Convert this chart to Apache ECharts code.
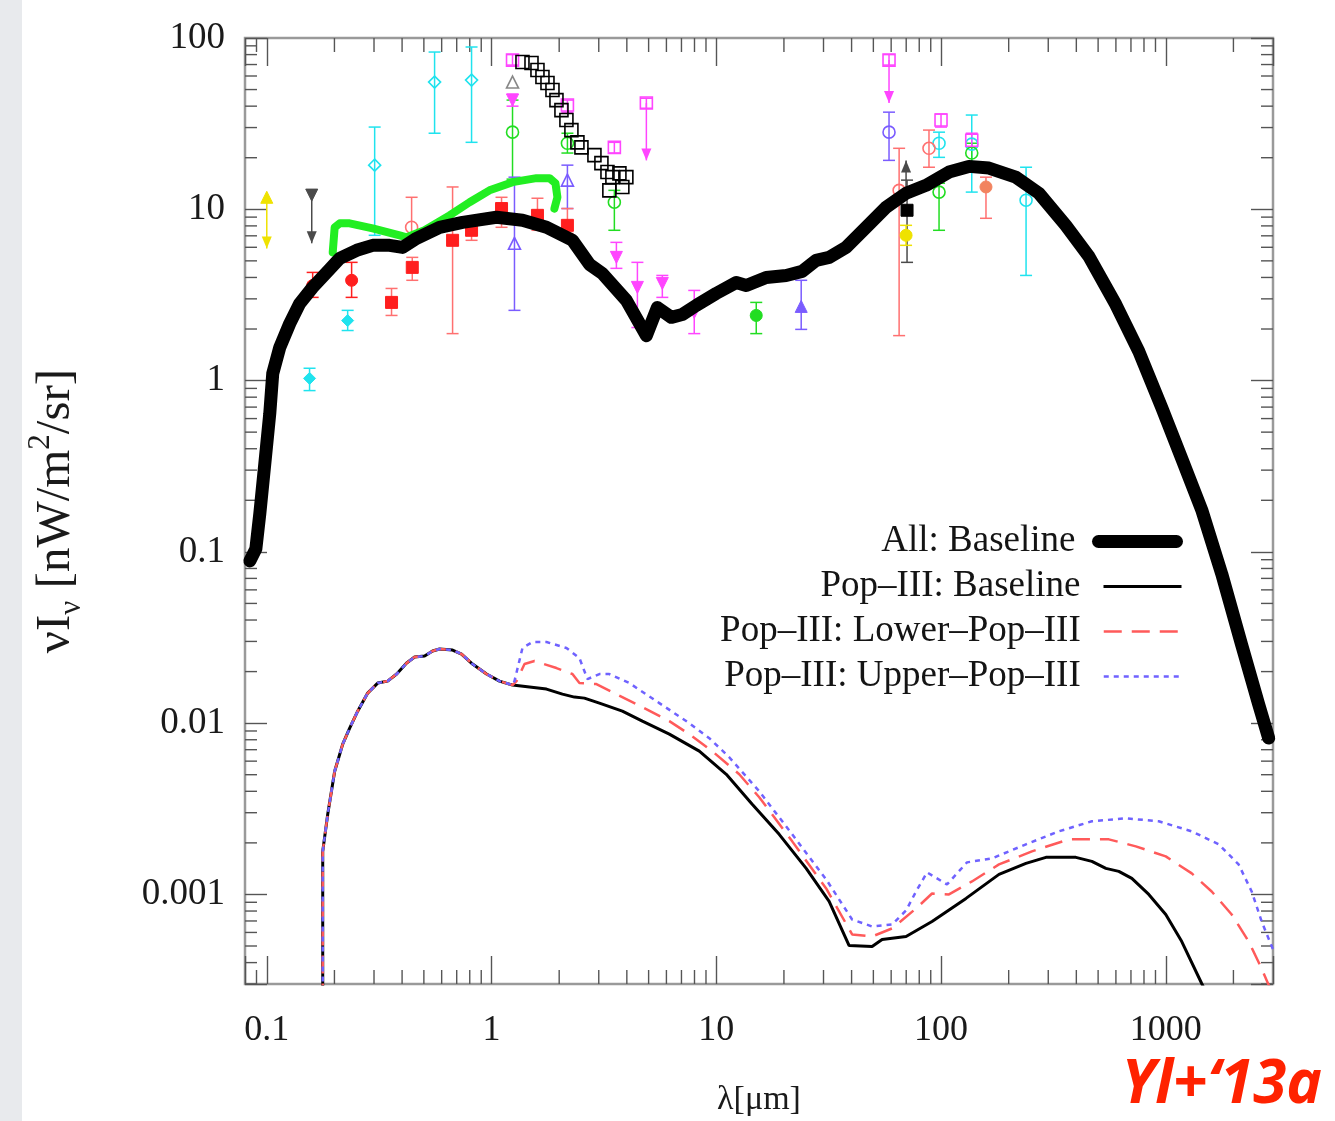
<!DOCTYPE html>
<html>
<head>
<meta charset="utf-8">
<script src="https://cdn.jsdelivr.net/npm/echarts@6/dist/echarts.min.js"></script>
<style>
html, body { margin: 0; padding: 0; background: #ffffff; }
#chart { width: 1335px; height: 1121px; }
</style>
</head>
<body>
<div id="chart"></div>
<script>
// Axis ranges (wavelength in micron, intensity in nW/m^2/sr)
const X_MIN = 0.08, X_MAX = 3000;
const Y_MIN = 0.0003, Y_MAX = 100;

// Model curves: [lambda, nuI_nu]
const allBaseline = [
  [0.0841, 0.0886], [0.0894, 0.104], [0.0931, 0.167], [0.0980, 0.327], [0.1031, 0.641],
  [0.1063, 1.10], [0.1142, 1.56], [0.1265, 2.15], [0.1402, 2.82], [0.160, 3.50],
  [0.1848, 4.28], [0.2111, 5.17], [0.2512, 5.76], [0.2959, 6.16], [0.352, 6.16],
  [0.4022, 5.99], [0.4642, 6.77], [0.5874, 7.85], [0.7433, 8.39], [1.052, 8.98],
  [1.373, 8.63], [1.756, 7.85], [2.291, 6.59], [2.727, 4.77], [3.113, 4.22],
  [3.981, 2.94], [4.886, 1.83], [5.467, 2.67], [6.31, 2.34], [7.06, 2.43],
  [8.15, 2.75], [10.0, 3.23], [12.27, 3.74], [13.6, 3.59], [16.68, 4.00],
  [20.47, 4.11], [24.1, 4.34], [27.8, 5.03], [31.8, 5.24], [37.8, 5.99],
  [46.4, 7.85], [56.9, 10.27], [69.9, 12.4], [85.8, 13.8], [108.5, 16.5],
  [133, 17.8], [163.4, 17.4], [215, 15.4], [272.6, 12.4], [359, 8.06],
  [454.8, 5.31], [599.5, 2.78], [758.6, 1.48], [959.8, 0.695], [1178, 0.350],
  [1445, 0.176], [1774, 0.0744], [2177, 0.0286], [2590, 0.0129], [2870, 0.00818]
];

// Part common to all Pop-III variants (up to ~1.2 micron)
const popIIIShared = [
  [0.1774, 0.000237], [0.1774, 0.000695], [0.1774, 0.001785], [0.1867, 0.002936],
  [0.2005, 0.00524], [0.2177, 0.00754], [0.2338, 0.00935], [0.2538, 0.01175],
  [0.2812, 0.01498], [0.3115, 0.01714], [0.345, 0.0176], [0.3784, 0.01935],
  [0.419, 0.02243], [0.4548, 0.02432], [0.5038, 0.02465], [0.5468, 0.02637],
  [0.5874, 0.02709], [0.6709, 0.02673], [0.7356, 0.02532], [0.8233, 0.02213],
  [0.9501, 0.01935], [1.085, 0.0176], [1.24, 0.01668]
];
const popIIIBaselineTail = [
  [1.475, 0.01624], [1.756, 0.01581], [2.068, 0.01477], [2.338, 0.01419], [2.59, 0.0140],
  [3.02, 0.01309], [3.82, 0.01175], [4.69, 0.01027], [6.182, 0.008623], [8.404, 0.006861],
  [11.08, 0.00503], [14.45, 0.00336], [19.05, 0.002243], [25.12, 0.001419], [31.78, 0.00091],
  [39.0, 0.000503], [49.36, 0.000497], [54.68, 0.000546], [69.9, 0.000568], [91.2, 0.000695],
  [129.2, 0.000948], [181.1, 0.001309], [238.7, 0.001518], [292.9, 0.001646], [398.1, 0.001646],
  [469, 0.00156], [541.2, 0.001419], [618.1, 0.001363], [706.3, 0.001241], [840.4, 0.001],
  [1000, 0.000764], [1178, 0.000531], [1445, 0.000302], [1585, 0.000237]
];
const popIIILowerTail = [
  [1.292, 0.0176], [1.402, 0.02213], [1.553, 0.02305], [1.945, 0.02097], [2.291, 0.01935],
  [2.461, 0.01714], [2.929, 0.01691], [3.594, 0.01477], [4.595, 0.01257], [6.182, 0.01027],
  [7.586, 0.008623], [9.601, 0.006861], [12.65, 0.00503], [15.53, 0.003693], [21.77, 0.002041],
  [30.83, 0.001084], [40.22, 0.000584], [49.36, 0.000568], [60.56, 0.000633], [77.43, 0.000828],
  [91.2, 0.001013], [108.5, 0.001], [137.3, 0.001191], [181.1, 0.001497], [253.8, 0.001785],
  [370.6, 0.002097], [558, 0.002097], [735.6, 0.001909], [1000, 0.001668], [1305, 0.001327],
  [1601, 0.001041], [1965, 0.000764], [2338, 0.000531], [2671, 0.000369], [3020, 0.000253]
];
const popIIIUpperTail = [
  [1.265, 0.0176], [1.373, 0.02746], [1.521, 0.02977], [1.756, 0.02977], [2.154, 0.02746],
  [2.461, 0.02399], [2.671, 0.01808], [3.02, 0.01935], [3.344, 0.01935], [4.105, 0.01714],
  [5.58, 0.01309], [7.586, 0.01], [9.309, 0.008176], [11.42, 0.006327], [15.53, 0.004002],
  [21.77, 0.002243], [30.83, 0.001224], [40.22, 0.000714], [49.36, 0.00065], [60.56, 0.000668],
  [69.9, 0.000806], [77.43, 0.001041], [86.7, 0.001345], [106.3, 0.001144], [130.5, 0.001539],
  [168.5, 0.001624], [238.7, 0.001961], [334.5, 0.002336], [469, 0.002673], [664.1, 0.002783],
  [930.8, 0.002673], [1305, 0.002336], [1720, 0.001961], [2110, 0.001497], [2411, 0.001041],
  [2671, 0.000695], [3051, 0.000452]
];

// Near-IR constraint band
const greenBand = [
  [0.1965, 5.60], [0.2005, 7.85], [0.2111, 8.28], [0.2338, 8.28], [0.2959, 7.74],
  [0.3902, 7.05], [0.419, 6.86], [0.5038, 7.54], [0.6506, 9.22], [0.7985, 10.99],
  [0.9797, 12.9], [1.24, 14.4], [1.585, 15.2], [1.811, 15.2], [1.925, 14.2],
  [1.964, 11.75], [1.905, 10.1]
];

// Measurements: [lambda, value, lower, upper]
const cyanFilledDiamond = [[0.155, 1.03, 0.874, 1.18], [0.229, 2.24, 1.96, 2.57]];
const cyanOpenDiamond = [[0.302, 18.1, 7.05, 30.2], [0.558, 55.3, 27.8, 82.8], [0.815, 56.8, 24.6, 88.6]];
const cyanOpenCircle = [[98, 24.3, 20.1, 28.2], [137, 24.0, 12.6, 35.5], [239, 11.3, 4.11, 17.6]];
const redFilledSquare = [
  [0.359, 2.86, 2.40, 3.45], [0.444, 4.58, 3.85, 5.24], [0.671, 6.59, 1.88, 13.5],
  [0.815, 7.54, 6.59, 8.63], [1.108, 10.1, 7.85, 11.75], [1.601, 9.22, 7.54, 11.6],
  [2.176, 8.06, 7.24, 10.1]
];
const redFilledCircle = [[0.160, 3.59, 3.06, 4.28], [0.2385, 3.85, 3.06, 4.90]];
const salmonOpenCircle = [[0.441, 7.85, 6.59, 11.75], [65.1, 12.9, 1.83, 22.7], [88.4, 22.7, 17.6, 29.0]];
const orangeFilledCircle = [[158.5, 13.5, 8.86, 15.4]];
const greenOpenCircle = [
  [1.24, 28.2, 15.0, 43.4], [2.176, 24.3, 21.3, 27.8], [3.52, 11.0, 7.54, 12.9],
  [98, 12.6, 7.54, 14.2], [137, 21.3, 18.6, 24.3]
];
const greenFilledCircle = [[15.06, 2.40, 1.88, 2.86]];
const blueOpenTriangle = [[1.265, 6.33, 2.57, 15.4], [2.176, 14.8, 10.1, 18.1]];
const blueFilledTriangle = [[23.87, 2.71, 1.99, 3.85]];
const blueOpenCircle = [[58.7, 28.2, 19.3, 36.9]];
const magentaOpenSquare = [
  [1.24, 74.3, 69.5, 80.0], [2.176, 40.6, 36.9, 43.4], [3.52, 23.0, 21.3, 24.6],
  [4.886, 41.7, 38.9, 44.5], [58.7, 74.3, 69.5, 80.0], [100, 33.2, 30.2, 36.0],
  [137, 25.3, 23.0, 27.8]
];
const magentaDownTriangle = [
  [1.24, 43.4, 40.0, 47.0], [3.594, 5.24, 4.52, 6.41], [4.457, 3.50, 2.04, 4.90],
  [5.754, 3.69, 3.06, 4.11], [7.98, 2.5, 1.88, 3.36]
];
const blackFilledSquare = [[70.6, 9.87, 4.90, 14.8]];
const yellowFilledCircle = [[69.9, 7.05, 6.16, 8.06]];
const grayOpenTriangle = [[1.24, 55.3]];
const blackOpenSquare = [
  [1.373, 72.4], [1.506, 71.4], [1.601, 65.0], [1.685, 59.2], [1.774, 54.6],
  [1.867, 49.7], [1.945, 43.4], [2.047, 37.9], [2.154, 33.2], [2.267, 29.0],
  [2.411, 24.6], [2.512, 23.0], [2.87, 20.7], [3.083, 18.6], [3.28, 16.5],
  [3.45, 15.4], [3.707, 16.2], [3.98, 15.4], [3.82, 13.5], [3.344, 12.9]
];
// Limits: [lambda, start, arrow tip]
const magentaLimits = [[4.886, 41.7, 19.3], [58.7, 74.3, 41.7]];
const grayLimits = [[0.1585, 12.1, 6.33], [69.9, 12.9, 19.3]];
const yellowLimits = [[0.1, 11.75, 5.91]];
const limitHeads = [[0.1585, 12.1]];
const yellowHeads = [[0.1, 11.75]];

// Axis tick labels
const decadeLabels = { '-3': '0.001', '-2': '0.01', '-1': '0.1', '0': '1', '1': '10', '2': '100', '3': '1000' };

const SERIF = '"Liberation Serif", "Times New Roman", serif';
const C = {
  cyan: '#1fe3ee', red: '#ff1e1e', salmon: '#ff7070', orange: '#f2835f', green: '#22dd22',
  blue: '#7a5cff', magenta: '#ff45ff', yellow: '#efe200', gray: '#4a4a4a', black: '#000000'
};

function decadeLabel(v) {
  const l = Math.log10(v);
  const n = Math.round(l);
  if (Math.abs(l - n) > 1e-6) return '';
  return decadeLabels[String(n)] || '';
}

function errorBars(data, color) {
  return {
    type: 'custom', data, z: 2, silent: true, encode: { x: 0, y: 1 },
    renderItem(params, api) {
      const x = api.value(0);
      const a = api.coord([x, api.value(2)]);
      const b = api.coord([x, api.value(3)]);
      const style = { stroke: color, lineWidth: 1.5 };
      return {
        type: 'group', children: [
          { type: 'line', shape: { x1: a[0], y1: a[1], x2: b[0], y2: b[1] }, style },
          { type: 'line', shape: { x1: a[0] - 6, y1: a[1], x2: a[0] + 6, y2: a[1] }, style },
          { type: 'line', shape: { x1: b[0] - 6, y1: b[1], x2: b[0] + 6, y2: b[1] }, style }
        ]
      };
    }
  };
}

function markers(data, color, symbol, filled, rotate, size) {
  return {
    type: 'scatter', data: data.map(d => [d[0], d[1]]), symbol, symbolSize: size || 12,
    symbolRotate: rotate || 0, z: 3, silent: true,
    itemStyle: filled
      ? { color, borderColor: color, borderWidth: 1, opacity: 1 }
      : { color: 'rgba(255,255,255,0)', borderColor: color, borderWidth: 1.6, opacity: 1 }
  };
}

function limitArrows(data, color) {
  return {
    type: 'custom', data, z: 2, silent: true, encode: { x: 0, y: 1 },
    renderItem(params, api) {
      const x = api.value(0);
      const a = api.coord([x, api.value(1)]);
      const b = api.coord([x, api.value(2)]);
      const dir = b[1] > a[1] ? 1 : -1;
      return {
        type: 'group', children: [
          { type: 'line', shape: { x1: a[0], y1: a[1], x2: b[0], y2: b[1] }, style: { stroke: color, lineWidth: 1.5 } },
          { type: 'polygon', shape: { points: [[b[0] - 5, b[1] - dir * 12], [b[0] + 5, b[1] - dir * 12], [b[0], b[1]]] }, style: { fill: color } }
        ]
      };
    }
  };
}

// Logarithmic minor ticks (2..9 per decade) mirrored on all four sides
const minorTickItems = [];
for (let n = -4; n <= 3; n++) {
  for (let k = 2; k <= 9; k++) {
    const v = k * Math.pow(10, n);
    if (v > X_MIN && v < X_MAX) minorTickItems.push([v, 1, 0]);
    if (v > Y_MIN && v < Y_MAX) minorTickItems.push([1, v, 1]);
  }
}
const minorTicks = {
  type: 'custom', data: minorTickItems, z: 1, silent: true, encode: { x: 0, y: 1 },
  renderItem(params, api) {
    const cs = params.coordSys;
    const p = api.coord([api.value(0), api.value(1)]);
    const style = { stroke: '#555', lineWidth: 1.4 };
    if (api.value(2) === 0) {
      return {
        type: 'group', children: [
          { type: 'line', shape: { x1: p[0], y1: cs.y + cs.height, x2: p[0], y2: cs.y + cs.height - 14 }, style },
          { type: 'line', shape: { x1: p[0], y1: cs.y, x2: p[0], y2: cs.y + 14 }, style }
        ]
      };
    }
    return {
      type: 'group', children: [
        { type: 'line', shape: { x1: cs.x, y1: p[1], x2: cs.x + 12, y2: p[1] }, style },
        { type: 'line', shape: { x1: cs.x + cs.width, y1: p[1], x2: cs.x + cs.width - 12, y2: p[1] }, style }
      ]
    };
  }
};

const legendNames = ['All: Baseline', 'Pop\u2013III: Baseline', 'Pop\u2013III: Lower\u2013Pop\u2013III', 'Pop\u2013III: Upper\u2013Pop\u2013III'];
const legendRowCenters = [542, 587, 632, 677];

const xAxisBase = {
  type: 'log', logBase: 10, min: X_MIN, max: X_MAX, gridIndex: 0,
  axisLine: { show: false },
  splitLine: { show: false },
  minorTick: { show: false },
  axisTick: { show: true, inside: true, length: 28, lineStyle: { color: '#555', width: 1.4 } }
};
const yAxisBase = {
  type: 'log', logBase: 10, min: Y_MIN, max: Y_MAX, gridIndex: 0,
  axisLine: { show: false },
  splitLine: { show: false },
  minorTick: { show: false },
  axisTick: { show: true, inside: true, length: 22, lineStyle: { color: '#555', width: 1.4 } }
};

const chart = echarts.init(document.getElementById('chart'), null, { renderer: 'canvas' });

const option = {
  backgroundColor: '#ffffff',
  animation: false,
  grid: {
    left: 245, top: 38, width: 1028, height: 946,
    show: true, borderColor: '#9a9a9a', borderWidth: 2.5, backgroundColor: 'transparent',
    containLabel: false, outerBoundsMode: 'none'
  },
  xAxis: [
    Object.assign({}, xAxisBase, {
      position: 'bottom',
      name: '\u03bb[\u03bcm]', nameLocation: 'middle', nameGap: 99,
      nameTextStyle: { fontFamily: SERIF, fontSize: 34, color: '#1a1a1a' },
      axisLabel: { show: true, margin: 29, fontFamily: SERIF, fontSize: 36, color: '#1a1a1a', formatter: decadeLabel }
    }),
    Object.assign({}, xAxisBase, { position: 'top', axisLabel: { show: false } })
  ],
  yAxis: [
    Object.assign({}, yAxisBase, {
      position: 'left',
      name: '{t|\u03bdI}{sub|\u03bd}{t| [nW/m}{sup|2}{t|/sr]}',
      nameLocation: 'middle', nameGap: 158, nameRotate: 90,
      nameTextStyle: {
        rich: {
          t: { fontFamily: SERIF, fontSize: 49, color: '#1a1a1a', lineHeight: 62 },
          sub: { fontFamily: SERIF, fontSize: 31, color: '#1a1a1a', verticalAlign: 'bottom', lineHeight: 31 },
          sup: { fontFamily: SERIF, fontSize: 31, color: '#1a1a1a', verticalAlign: 'top', lineHeight: 31 }
        }
      },
      axisLabel: { show: true, margin: 20, fontFamily: SERIF, fontSize: 37, color: '#1a1a1a', formatter: decadeLabel }
    }),
    Object.assign({}, yAxisBase, { position: 'right', axisLabel: { show: false } })
  ],
  legend: legendNames.map((nm, i) => ({
    data: [nm], orient: 'vertical', align: 'right', selectedMode: false,
    right: 1335 - 1188, top: legendRowCenters[i] - 24,
    itemWidth: 78, itemHeight: 14,
    itemStyle: { opacity: 0, borderWidth: 0 },
    lineStyle: { width: 'inherit' },
    textStyle: { fontFamily: SERIF, fontSize: 37, color: '#141414', padding: [0, 18, 0, 0] }
  })),
  graphic: [
    { type: 'rect', left: 0, top: 0, shape: { width: 22, height: 1121 }, style: { fill: '#e8eaed' }, silent: true, z: -10 },
    {
      type: 'text', silent: true, z: 10,
      style: {
        text: 'Yl+\u201813a', x: 1322, y: 1116, align: 'right', verticalAlign: 'bottom',
        fontFamily: '"Open Sans", "Noto Sans", sans-serif', fontStyle: 'italic', fontWeight: 'bold',
        fontSize: 60, fill: '#ff2200'
      }
    }
  ],
  series: [
    minorTicks,
    // data points
    errorBars(cyanFilledDiamond, C.cyan), markers(cyanFilledDiamond, C.cyan, 'diamond', true),
    errorBars(cyanOpenDiamond, C.cyan), markers(cyanOpenDiamond, C.cyan, 'diamond', false),
    errorBars(cyanOpenCircle, C.cyan), markers(cyanOpenCircle, C.cyan, 'circle', false),
    errorBars(salmonOpenCircle, C.salmon), markers(salmonOpenCircle, C.salmon, 'circle', false),
    errorBars(orangeFilledCircle, C.salmon), markers(orangeFilledCircle, C.orange, 'circle', true),
    errorBars(greenOpenCircle, C.green), markers(greenOpenCircle, C.green, 'circle', false),
    errorBars(greenFilledCircle, C.green), markers(greenFilledCircle, C.green, 'circle', true),
    errorBars(blueOpenTriangle, C.blue), markers(blueOpenTriangle, C.blue, 'triangle', false),
    errorBars(blueFilledTriangle, C.blue), markers(blueFilledTriangle, C.blue, 'triangle', true),
    errorBars(blueOpenCircle, C.blue), markers(blueOpenCircle, C.blue, 'circle', false),
    errorBars(magentaOpenSquare, C.magenta), markers(magentaOpenSquare, C.magenta, 'rect', false),
    errorBars(magentaDownTriangle, C.magenta), markers(magentaDownTriangle, C.magenta, 'triangle', true, 180),
    limitArrows(magentaLimits, C.magenta),
    limitArrows(grayLimits, C.gray), markers(limitHeads, C.gray, 'triangle', true, 180),
    limitArrows(yellowLimits, C.yellow), markers(yellowHeads, C.yellow, 'triangle', true),
    markers(grayOpenTriangle, '#888888', 'triangle', false),
    markers(blackOpenSquare, C.black, 'rect', false, 0, 13),
    errorBars(blackFilledSquare, C.gray), markers(blackFilledSquare, C.black, 'rect', true),
    errorBars(yellowFilledCircle, C.yellow), markers(yellowFilledCircle, C.yellow, 'circle', true),
    errorBars(redFilledCircle, C.red), markers(redFilledCircle, C.red, 'circle', true),
    errorBars(redFilledSquare, C.salmon), markers(redFilledSquare, C.red, 'rect', true),
    // models
    {
      name: legendNames[1], type: 'line', data: popIIIShared.concat(popIIIBaselineTail),
      symbol: 'none', z: 3, silent: true, clip: true,
      lineStyle: { color: '#000000', width: 3, type: 'solid' }
    },
    {
      name: legendNames[2], type: 'line', data: popIIIShared.concat(popIIILowerTail),
      symbol: 'none', z: 3, silent: true, clip: true,
      lineStyle: { color: '#ff5a5a', width: 2.5, type: [18, 10] }
    },
    {
      name: legendNames[3], type: 'line', data: popIIIShared.concat(popIIIUpperTail),
      symbol: 'none', z: 3, silent: true, clip: true,
      lineStyle: { color: '#6f62ff', width: 2.5, type: [5, 5] }
    },
    {
      type: 'line', data: greenBand, symbol: 'none', z: 4, silent: true,
      lineStyle: { color: '#22ee22', width: 8, join: 'round', cap: 'round' }
    },
    {
      name: legendNames[0], type: 'line', data: allBaseline,
      symbol: 'none', z: 5, silent: true, clip: true,
      lineStyle: { color: '#000000', width: 13, join: 'round', cap: 'round' }
    }
  ]
};

chart.setOption(option);
</script>
</body>
</html>
